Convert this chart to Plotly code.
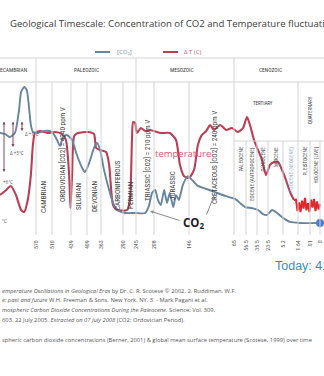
import numpy as np
import plotly.graph_objects as go

W, H = 324, 376

# ---------------- data ----------------
# horizontal scale of the original chart (piecewise, age in Ma -> position)
AGE_KNOTS = [640, 570, 510, 439, 409, 363, 290, 245, 208, 146, 65, 56.5, 35.5, 23.5, 5.2, 1.64, 0.01, 0]
POS_KNOTS = [0, 36, 52, 71, 87, 101, 123, 136, 154, 189, 234, 246, 257, 268, 283, 298, 310, 320]

tick_ages = [570, 510, 439, 409, 363, 290, 245, 208, 146, 65, 56.5, 35.5, 23.5, 5.2, 1.64, 0.01, 0]
tick_text = ["570", "510", "439", "409", "363", "290", "245", "208", "146", "65", "56.5", "35.5",
             "23.5", "5.2", "1.64", ".01", "0"]

# temperature anomaly (deg C)
temp_age = [640, 630, 619, 609, 599, 593, 586, 580, 576, 572, 555, 525, 499, 473, 458, 446, 441, 437,
            433, 426, 406, 386, 379, 366, 346, 336, 323, 310, 276, 266, 259, 255, 248, 243, 235, 226,
            216, 197, 180, 169, 162, 155, 146, 137, 130, 123, 115, 108, 101, 90, 79, 69, 62.2, 58.6,
            54.6, 48.9, 41.2, 34.4, 30.0, 25.7, 21.1, 16.2, 11.3, 6.4, 4.49, 3.54, 2.59]
temp_dT = [1.14, 1.59, 2.16, 1.14, -0.57, -0.80, 0.57, 3.41, 6.82, 8.18, 8.41, 8.18, 8.30, 8.07, 7.39,
           3.41, -0.34, 3.41, 7.84, 8.18, 8.30, 8.07, 6.48, 6.25, 6.02, 4.55, 0.0, -0.57, -0.57, 0.57,
           7.39, 9.43, 9.32, 8.18, 8.75, 8.41, 8.52, 8.18, 8.18, 7.39, 4.55, 3.30, 3.07, 3.98, 6.82,
           7.95, 8.41, 9.09, 8.52, 9.09, 8.52, 8.75, 8.30, 8.75, 10.0, 9.09, 7.39, 6.25, 5.11, 3.41,
           4.55, 4.89, 4.89, 3.98, 2.84, 1.48, 0.57]

# Quaternary temperature oscillations
quat_age = [2.59, 2.12, 1.76, 1.50, 1.30, 1.10, 0.89, 0.69, 0.49, 0.28, 0.078, 0.009, 0.0075, 0.006,
            0.0045, 0.003, 0.0015, 0]
quat_dT = [0.57, 0.6, -0.7, 0.3, -0.8, 0.5, -0.4, 0.8, -0.6, 0.2, -0.8, 0.6, -0.3, 0.7, -0.7, 0.4,
           -0.5, 0.1]

# CO2 concentration (ppm)
co2_age = [640, 630, 621, 611, 603, 599, 593, 588, 584, 580, 576, 562.5, 536, 510, 495, 480, 469, 454,
           437, 428, 418, 413, 402, 386, 376, 366, 353, 336, 320, 303, 283, 248.5, 226, 218, 212, 206,
           201, 196, 190, 185, 180, 174, 169, 164, 157, 148, 140.6, 130, 115, 99, 81, 64.3, 57.2, 45,
           34.4, 29, 24.6, 18.6, 12.5, 5.2, 3.54, 1.37, 0]
co2_ppm = [4500, 4450, 4310, 4500, 5580, 6420, 6660, 6520, 5810, 4880, 4550, 4500, 4600, 4550, 4270,
           3890, 4310, 4410, 4170, 3470, 2860, 2670, 3090, 3800, 4030, 3700, 2770, 1830, 1120, 840,
           750, 750, 750, 1120, 1690, 1830, 1360, 1120, 1830, 1220, 1690, 1030, 1590, 1360, 2060,
           2480, 2300, 2020, 1880, 1730, 1550, 1410, 1030, 980, 890, 700, 660, 890, 750, 520, 330,
           280, 280]
today_age = [0]
today_ppm = [280]

eras = ["PRECAMBRIAN", "PALEOZOIC", "MESOZOIC", "CENOZOIC"]
period_labels = ["CAMBRIAN", "ORDOVICIAN [CO2] = 4240 ppm V", "SILURIAN", "DEVONIAN", "CARBONIFEROUS",
                 "PERMIAN", "TRIASSIC [CO2] = 210 ppm V", "JURASSIC", "CRETACEOUS [CO2] = 240 ppm V"]
epoch_labels = ["PALEOCENE", "EOCENE (ANTROPOCENE)", "OLIGOCENE", "MIOCENE", "PLIOCENE (NEOGENE)",
                "PLEISTOCENE", "HOLOCENE (LIVE)"]


def age_scale(a):
    return np.interp(-np.asarray(a, float), -np.asarray(AGE_KNOTS, float), POS_KNOTS)


def px(x):
    return x / W


def py(y):
    return 1 - y / H


# ---------------- colours / fonts ----------------
CO2_C = "#6784a0"
T_C = "#b93f55"
Q_C = "#e0282e"
GRID = "#d4d4d4"
TXT = "#3a3a3a"
FONT = "Open Sans, Noto Sans, sans-serif"
NARROW = "Liberation Sans Narrow, Roboto Condensed, Roboto, sans-serif"

DOM = [py(235), py(82)]

fig = go.Figure()
fig.add_trace(go.Scatter(x=age_scale(co2_age), y=co2_ppm, mode="lines", yaxis="y2",
                         line=dict(color=CO2_C, width=1.9, shape="spline", smoothing=0.6),
                         hoverinfo="skip"))
fig.add_trace(go.Scatter(x=age_scale(temp_age), y=temp_dT, mode="lines", yaxis="y",
                         line=dict(color=T_C, width=2.1, shape="spline", smoothing=0.6),
                         hoverinfo="skip"))
fig.add_trace(go.Scatter(x=age_scale(quat_age), y=quat_dT, mode="lines", yaxis="y",
                         line=dict(color=Q_C, width=2), hoverinfo="skip"))
fig.add_trace(go.Scatter(x=age_scale(today_age), y=today_ppm, mode="markers", yaxis="y2",
                         marker=dict(color="#4d7ccc", size=8), hoverinfo="skip"))

shapes = []
# header lines
for yy in (58, 82):
    shapes.append(dict(type="line", xref="paper", yref="paper", x0=0, x1=1, y0=py(yy), y1=py(yy),
                       line=dict(color=GRID, width=1)))
# era dividers (full height) and period lines
era_bounds = [570, 245, 65]
period_bounds = [510, 439, 409, 363, 290, 208, 146]
epoch_bounds = [56.5, 35.5, 23.5, 5.2, 0.01]
for a in era_bounds:
    xx = float(age_scale(a))
    shapes.append(dict(type="line", xref="x", yref="paper", x0=xx, x1=xx, y0=py(235), y1=py(58),
                       line=dict(color=GRID, width=1)))
for a in period_bounds + [1.64]:
    xx = float(age_scale(a))
    shapes.append(dict(type="line", xref="x", yref="paper", x0=xx, x1=xx, y0=py(235), y1=py(82),
                       line=dict(color=GRID, width=1)))
for a in epoch_bounds + [0]:
    xx = float(age_scale(a))
    shapes.append(dict(type="line", xref="x", yref="paper", x0=xx, x1=xx, y0=py(235), y1=py(141),
                       line=dict(color=GRID, width=1)))
shapes.append(dict(type="line", xref="x", yref="paper", x0=float(age_scale(65)), x1=W,
                   y0=py(141), y1=py(141), line=dict(color=GRID, width=1)))
# legend samples
shapes.append(dict(type="line", xref="paper", yref="paper", x0=px(95), x1=px(110), y0=py(52), y1=py(52),
                   line=dict(color=CO2_C, width=2)))
shapes.append(dict(type="line", xref="paper", yref="paper", x0=px(163), x1=px(178), y0=py(52), y1=py(52),
                   line=dict(color=T_C, width=2)))

ann = []


def text(t, x, y, size, color=TXT, family=FONT, angle=0, xa="center", ya="middle", **kw):
    ann.append(dict(text=t, x=px(x), y=py(y), xref="paper", yref="paper", showarrow=False,
                    font=dict(size=size, color=color, family=family), textangle=angle,
                    xanchor=xa, yanchor=ya, **kw))


text("Geological Timescale: Concentration of CO2 and Temperature fluctuations over time", 8, 23, 9.6,
     color="#404040", xa="left")
text("[CO<sub>2</sub>]", 115, 52, 6, color="#7890a8", xa="left")
text("Δ T (C)", 182, 52, 6, color="#c56070", xa="left")

# eras
text(eras[0], 29, 70, 5.5, xa="right", family=NARROW)
text(eras[1], 86, 70, 5.5, family=NARROW)
text(eras[2], 182, 70, 5.5, family=NARROW)
text(eras[3], 270, 70, 5.5, family=NARROW)
text("TERTIARY", 263, 103, 5, family=NARROW)
text("QUATERNARY", 310, 110, 5, family=NARROW, angle=-90)

# periods
per_x = [43, 62, 78, 94, 117, 130, 147, 172, 214]
per_y = [197, 155, 197, 197, 185, 196, 161, 186, 158]
for t, x, y in zip(period_labels, per_x, per_y):
    text(t, x, y, 7.2, family=NARROW, angle=-90)

# epochs
ep_x = [240, 252, 262, 276, 291, 304, 316]
for i, (t, x) in enumerate(zip(epoch_labels, ep_x)):
    col = "#86a9d6" if i == 4 else TXT
    text(t, x, 145, 5.2, color=col, family=NARROW, angle=-90, ya="top")

text("temperature", 183, 154, 9.5, color="#d45c76")
text("<b>CO<sub>2</sub></b>", 193, 223, 11.5, color="#1e1e1e")
text("Today: 410 ppm", 273, 266, 12.5, color="#3d8db6", family="Liberation Sans, Arial, sans-serif",
     xa="left")

# callout arrows from CO2 label
for (tx, ty), (hx, hy) in [((150, 211), (181, 221)), ((214, 196), (206, 216))]:
    ann.append(dict(text="", x=px(tx), y=py(ty), xref="paper", yref="paper", showarrow=True,
                    ax=hx - tx, ay=hy - ty, axref="pixel", ayref="pixel", arrowhead=2, arrowsize=0.7,
                    arrowwidth=1, arrowcolor="#8a8a8a"))

# precambrian scale arrows
for x0, y1, lab, lx, ly in [(4, 172, "+6°C", 1, 182), (13, 147, "Δ +3°C", 8, 153), (22, 131, "Δ +1°C", 23, 134)]:
    ann.append(dict(text="", x=px(x0), y=py(y1), xref="paper", yref="paper", showarrow=True,
                    ax=0, ay=120 - y1, axref="pixel", ayref="pixel", arrowhead=2, arrowside="end+start",
                    arrowsize=0.6, arrowwidth=1, arrowcolor="#8a4a5a"))
    text(lab, lx, ly, 4.5, color="#555", xa="left")
text("°C", 0, 221, 4.5, color="#555", xa="left")

# footer
FOOT = "#555555"
foot = [
    ("<i>emperature Oscillations in Geological Eras</i> by Dr. C. R. Scotese © 2002. 2. Ruddiman, W.F.", 291),
    ("<i>e: past and future</i> W.H. Freeman & Sons. New York, NY. 3  - Mark Pagani et al.", 300),
    ("<i>mospheric Carbon Dioxide Concentrations During the Paleocene.</i> Science; Vol. 309,", 310),
    ("603. 22 July 2005. <i>Extracted on 07 July 2008</i> (CO2: Ordovician Period).", 320),
    ("spheric carbon dioxide concentrations (Berner, 2001) & global mean surface temperature (Scotese, 1999) over time", 340),
]
for t, y in foot:
    text(t, 0, y, 5.8, color=FOOT, xa="left")

fig.update_layout(
    width=W, height=H, autosize=False, margin=dict(l=0, r=0, t=0, b=0),
    paper_bgcolor="white", plot_bgcolor="white", showlegend=False,
    xaxis=dict(range=[0, W], domain=[0, 1], showgrid=False, zeroline=False, showline=False,
               tickmode="array", tickvals=age_scale(tick_ages).tolist(), ticktext=tick_text,
               tickangle=-90, ticks="", ticklabelstandoff=3,
               tickfont=dict(size=6, color="#555", family=NARROW), anchor="y", fixedrange=True),
    yaxis=dict(domain=DOM, range=[-3.41, 13.98], visible=False, fixedrange=True),
    yaxis2=dict(domain=DOM, range=[-283, 6893], overlaying="y", visible=False, fixedrange=True),
    shapes=shapes, annotations=ann,
)

fig.write_html("out.html", config={"displayModeBar": False, "staticPlot": True})
